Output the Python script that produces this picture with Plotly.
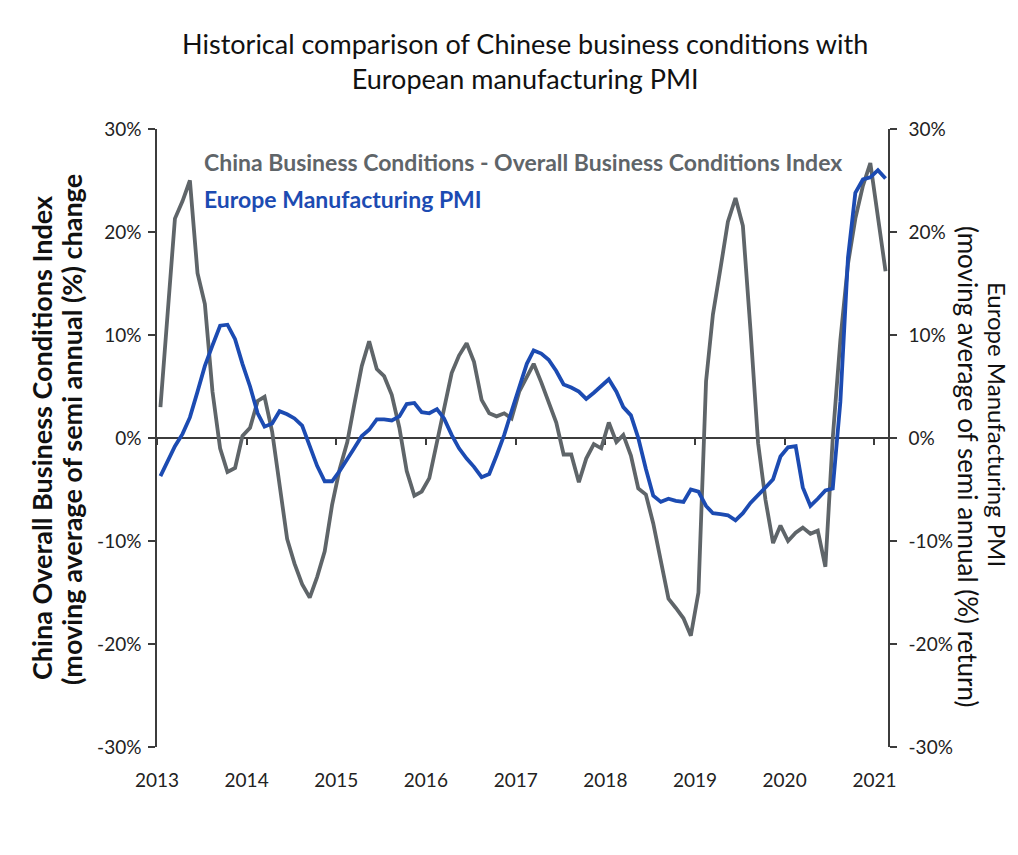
import pandas as pd
import plotly.graph_objects as go

# Monthly observations, Jan 2013 .. Feb 2021 (mid-month)
start_month = "2013-01-01"
n_months = 98

china_bci = [
    3.0, 13.0, 21.3, 23.0, 25.0, 16.0, 13.0, 4.5, -1.0, -3.3,
    -2.9, 0.2, 1.0, 3.6, 4.0, 0.6, -4.8, -9.8, -12.2, -14.2,
    -15.5, -13.5, -11.0, -6.5, -3.0, -0.4, 3.2, 7.0, 9.4, 6.7,
    6.0, 4.2, 1.0, -3.2, -5.6, -5.2, -3.9, -0.5, 3.0, 6.3,
    8.0, 9.2, 7.4, 3.7, 2.4, 2.1, 2.4, 1.9, 4.5, 6.0,
    7.2, 5.4, 3.5, 1.5, -1.6, -1.6, -4.3, -2.0, -0.6, -1.0,
    1.5, -0.4, 0.3, -1.7, -4.9, -5.5, -8.3, -12.0, -15.6, -16.5,
    -17.5, -19.2, -15.0, 5.5, 12.0, 16.5, 21.0, 23.3, 20.6, 10.5,
    -0.5, -6.0, -10.2, -8.5, -10.0, -9.2, -8.7, -9.3, -9.0, -12.5,
    0.0, 9.5, 16.9, 21.3, 24.5, 26.7, 21.6, 16.2,
]

europe_pmi = [
    -3.7, -2.2, -0.8, 0.4, 2.0, 4.5, 7.0, 9.0, 10.9, 11.0,
    9.6, 7.2, 5.0, 2.4, 1.1, 1.4, 2.6, 2.3, 1.9, 1.2,
    -0.8, -2.7, -4.2, -4.2, -3.2, -2.1, -1.0, 0.2, 0.8, 1.8,
    1.8, 1.7, 2.1, 3.3, 3.4, 2.5, 2.4, 2.8, 1.9, 0.3,
    -1.0, -2.0, -2.8, -3.8, -3.5, -1.7, 0.3, 2.6, 5.0, 7.2,
    8.5, 8.2, 7.6, 6.5, 5.2, 4.9, 4.5, 3.8, 4.4, 5.1,
    5.7, 4.5, 3.0, 2.2, 0.0, -3.0, -5.6, -6.2, -5.9, -6.1,
    -6.2, -5.0, -5.2, -6.6, -7.3, -7.4, -7.5, -8.0, -7.3, -6.3,
    -5.6, -4.8, -4.0, -1.8, -0.9, -0.8, -4.8, -6.6, -5.9, -5.1,
    -4.9, 3.5, 17.5, 23.8, 25.1, 25.3, 26.0, 25.2,
]

year_ticks = ["2013", "2014", "2015", "2016", "2017", "2018", "2019", "2020", "2021"]
y_ticks = [-30, -20, -10, 0, 10, 20, 30]
y_tick_labels = ["-30%", "-20%", "-10%", "0%", "10%", "20%", "30%"]

china_name = "China Business Conditions - Overall Business Conditions Index"
europe_name = "Europe Manufacturing PMI"
left_title = ["China Overall Business Conditions Index",
              "(moving average of semi annual (%) change"]
right_title = ["Europe Manufacturing PMI",
               "(moving average of semi annual (%) return)"]

dates = pd.date_range(start_month, periods=n_months, freq="MS") + pd.Timedelta(days=14)
tick_dates = [f"{y}-01-01" for y in year_ticks]
x_range = ["2013-01-01", "2021-02-25"]

GRAY = "#5f6569"
BLUE = "#1c4bb2"
AXIS = "#3c3c3c"
FONT = "Lato"

# plot-area geometry (pixels); page body adds an 8px offset
L, T, W, H = 149, 121, 731, 618
FIG_W, FIG_H = 1018, 855

def px_x(x):
    return (x - 7 - L) / W

def px_y(y):
    return (T + H - (y - 7)) / H

fig = go.Figure()
fig.add_trace(go.Scatter(x=dates, y=china_bci, mode="lines", name=china_name,
                         line=dict(color=GRAY, width=3.8), xaxis="x", yaxis="y"))
fig.add_trace(go.Scatter(x=dates, y=europe_pmi, mode="lines", name=europe_name,
                         line=dict(color=BLUE, width=3.8), xaxis="x2", yaxis="y2"))

tickfont = dict(family=FONT, size=19, color="#222222")

fig.update_layout(
    width=FIG_W, height=FIG_H, autosize=False,
    paper_bgcolor="white", plot_bgcolor="white",
    margin=dict(l=L, r=FIG_W - L - W, t=T, b=FIG_H - T - H),
    showlegend=False,
    title=dict(text="Historical comparison of Chinese business conditions with<br>European manufacturing PMI",
               x=0.508, xanchor="center", y=1 - 46 / FIG_H, yanchor="top", yref="container",
               font=dict(family=FONT, size=27, color="#111111")),
    xaxis=dict(type="date", range=x_range, tickvals=tick_dates, ticktext=year_ticks,
               showgrid=False, zeroline=False, showline=False, ticks="",
               tickfont=tickfont, ticklabelstandoff=20),
    xaxis2=dict(type="date", range=x_range, tickvals=tick_dates, overlaying="x",
                anchor="free", position=0.5, side="bottom", showticklabels=False,
                showgrid=False, zeroline=False, showline=True, linecolor=AXIS, linewidth=1.5,
                ticks="outside", ticklen=6, tickwidth=1.5, tickcolor=AXIS, layer="below traces"),
    yaxis=dict(range=[-30, 30], tickvals=y_ticks, ticktext=y_tick_labels,
               showgrid=False, zeroline=False, showline=True, linecolor=AXIS, linewidth=1.5,
               ticks="outside", ticklen=7, tickwidth=1.5, tickcolor=AXIS,
               tickfont=tickfont, ticklabelstandoff=3),
    yaxis2=dict(range=[-30, 30], tickvals=y_ticks, ticktext=y_tick_labels,
                overlaying="y", side="right", anchor="x2",
                showgrid=False, zeroline=False, showline=True, linecolor=AXIS, linewidth=1.5,
                ticks="outside", ticklen=7, tickwidth=1.5, tickcolor=AXIS,
                tickfont=tickfont, ticklabelstandoff=8),
)

# series labels (legend drawn as coloured text)
fig.add_annotation(text=f"<b>{china_name}</b>", xref="paper", yref="paper",
                   x=px_x(201), y=px_y(161), xanchor="left", yanchor="middle",
                   showarrow=False, font=dict(family=FONT, size=23, color=GRAY))
fig.add_annotation(text=f"<b>{europe_name}</b>", xref="paper", yref="paper",
                   x=px_x(201), y=px_y(198), xanchor="left", yanchor="middle",
                   showarrow=False, font=dict(family=FONT, size=23, color=BLUE))

# axis titles (each line placed separately for tight line spacing)
for txt, cx, cy in zip(left_title, [40, 70], [437, 429]):
    fig.add_annotation(text=f"<b>{txt}</b>", xref="paper", yref="paper",
                       x=px_x(cx), y=px_y(cy), xanchor="center", yanchor="middle",
                       textangle=-90, showarrow=False,
                       font=dict(family=FONT, size=27, color="#111111"))
for txt, cx, cy, sz in zip(right_title, [997, 967], [424, 466], [24, 26]):
    fig.add_annotation(text=txt, xref="paper", yref="paper",
                       x=px_x(cx), y=px_y(cy), xanchor="center", yanchor="middle",
                       textangle=90, showarrow=False,
                       font=dict(family=FONT, size=sz, color="#111111"))

fig.write_html("out.html")
